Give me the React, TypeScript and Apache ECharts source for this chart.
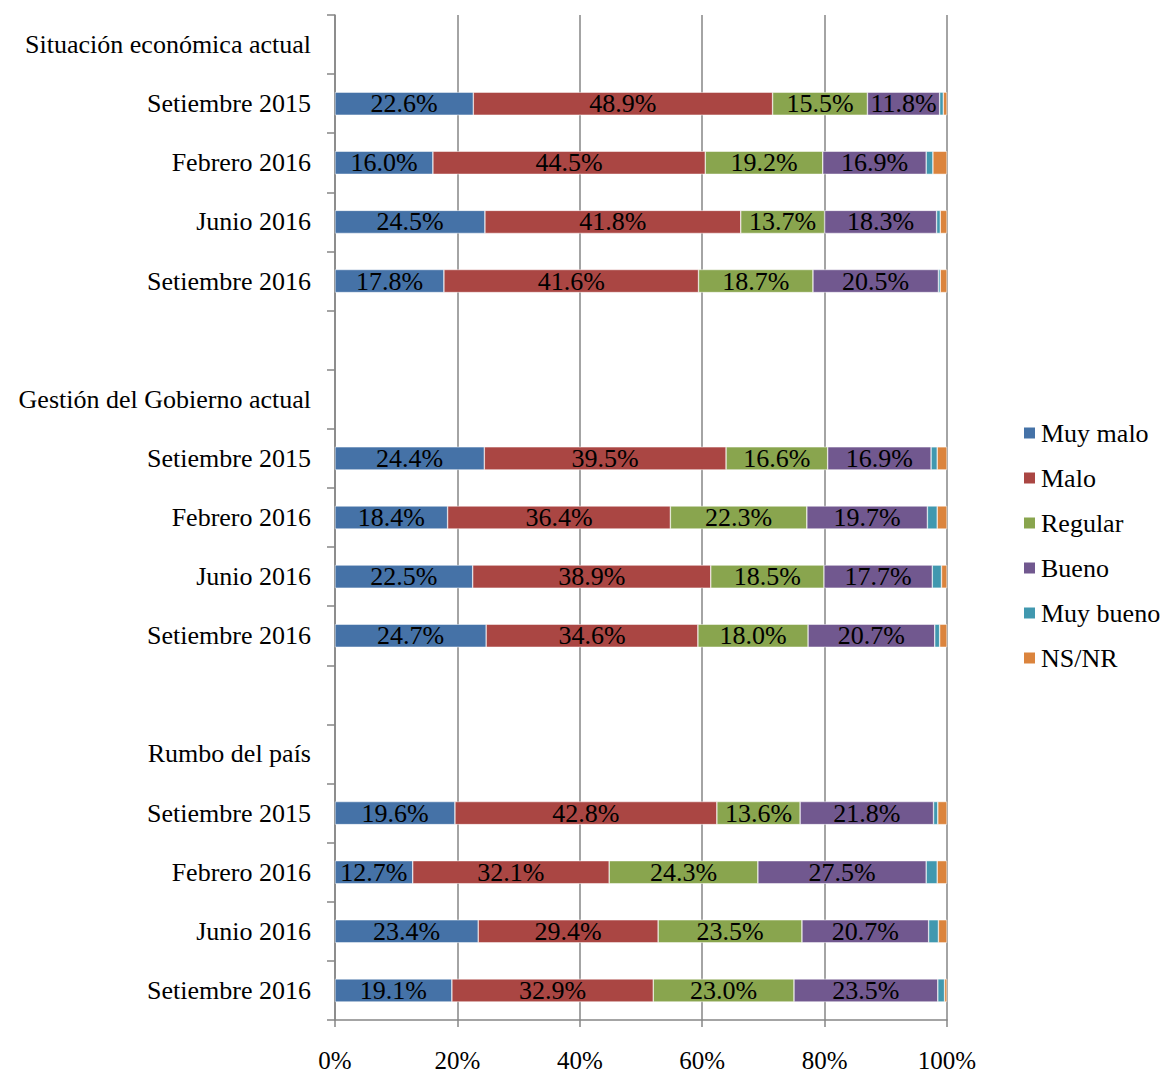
import React, { useEffect, useRef } from "react";
import * as echarts from "echarts";

const categories = [
  "Situación económica actual",
  "Setiembre 2015",
  "Febrero 2016",
  "Junio 2016",
  "Setiembre 2016",
  "",
  "Gestión del Gobierno actual",
  "Setiembre 2015 ",
  "Febrero 2016 ",
  "Junio 2016 ",
  "Setiembre 2016 ",
  " ",
  "Rumbo del país",
  "Setiembre 2015  ",
  "Febrero 2016  ",
  "Junio 2016  ",
  "Setiembre 2016  ",
];

const seriesNames = ["Muy malo", "Malo", "Regular", "Bueno", "Muy bueno", "NS/NR"];
const colors = ["#4572A7", "#AA4643", "#89A54E", "#71588F", "#4198AF", "#DB843D"];

const N = null;
const muyMalo = [N, 22.6, 16.0, 24.5, 17.8, N, N, 24.4, 18.4, 22.5, 24.7, N, N, 19.6, 12.7, 23.4, 19.1];
const malo = [N, 48.9, 44.5, 41.8, 41.6, N, N, 39.5, 36.4, 38.9, 34.6, N, N, 42.8, 32.1, 29.4, 32.9];
const regular = [N, 15.5, 19.2, 13.7, 18.7, N, N, 16.6, 22.3, 18.5, 18.0, N, N, 13.6, 24.3, 23.5, 23.0];
const bueno = [N, 11.8, 16.9, 18.3, 20.5, N, N, 16.9, 19.7, 17.7, 20.7, N, N, 21.8, 27.5, 20.7, 23.5];
const muyBueno = [N, 0.6, 1.1, 0.6, 0.3, N, N, 1.0, 1.6, 1.5, 0.8, N, N, 0.7, 1.8, 1.6, 1.1];
const nsnr = [N, 0.6, 2.3, 1.1, 1.1, N, N, 1.6, 1.6, 0.9, 1.2, N, N, 1.5, 1.6, 1.4, 0.4];

const seriesData = [muyMalo, malo, regular, bueno, muyBueno, nsnr];
const showLabel = [true, true, true, true, false, false];

const xTicks = [0, 20, 40, 60, 80, 100];

const FONT = "'Liberation Serif', 'Times New Roman', serif";

export default function App() {
  const ref = useRef<HTMLDivElement>(null);

  useEffect(() => {
    if (!ref.current) return;
    const chart = echarts.init(ref.current, null, { renderer: "svg" });
    chart.setOption({
      animation: false,
      backgroundColor: "#ffffff",
      textStyle: { fontFamily: FONT },
      grid: { left: 335, right: 216, top: 15, bottom: 51, containLabel: false },
      legend: {
        orient: "vertical",
        left: 1017,
        top: 415,
        itemWidth: 13,
        itemHeight: 13,
        itemGap: 19,
        icon: "rect",
        data: seriesNames,
        textStyle: { fontFamily: FONT, fontSize: 26, color: "#000" },
      },
      xAxis: {
        type: "value",
        min: xTicks[0],
        max: xTicks[xTicks.length - 1],
        interval: 20,
        axisLine: { show: true, lineStyle: { color: "#868686", width: 1.5 } },
        axisTick: { show: true, length: 7, lineStyle: { color: "#868686", width: 1.5 } },
        splitLine: { show: true, lineStyle: { color: "#868686", width: 1.5 } },
        axisLabel: {
          formatter: "{value}%",
          fontFamily: FONT,
          fontSize: 25,
          color: "#000",
          margin: 28,
        },
      },
      yAxis: {
        type: "category",
        inverse: true,
        data: categories,
        axisLine: { show: true, lineStyle: { color: "#868686", width: 1.5 } },
        axisTick: { show: true, length: 8, lineStyle: { color: "#868686", width: 1.5 } },
        axisLabel: {
          fontFamily: FONT,
          fontSize: 26,
          color: "#000",
          margin: 24,
          formatter: (v: string) => v.trim(),
        },
      },
      series: seriesNames.map((name, i) => ({
        name,
        type: "bar",
        stack: "total",
        barWidth: "39%",
        data: seriesData[i],
        itemStyle: { color: colors[i], borderColor: "#ffffff", borderWidth: 0.5 },
        label: {
          show: showLabel[i],
          position: "inside",
          fontFamily: FONT,
          fontSize: 26,
          color: "#000",
          formatter: (p: any) => (p.value == null ? "" : Number(p.value).toFixed(1) + "%"),
        },
      })),
    });
    return () => chart.dispose();
  }, []);

  return (
    <div
      ref={ref}
      style={{ position: "fixed", left: 0, top: 0, width: 1163, height: 1073 }}
    />
  );
}
